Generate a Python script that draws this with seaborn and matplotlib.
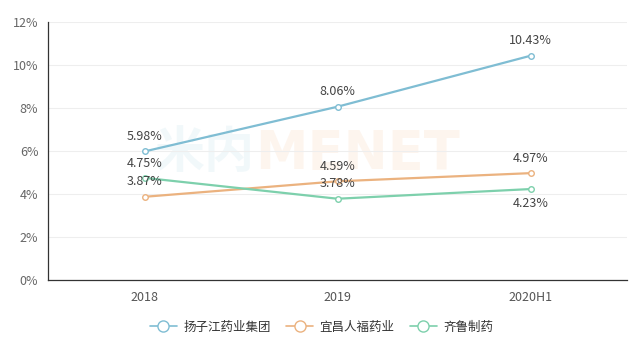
import pandas as pd
import matplotlib.pyplot as plt
import seaborn as sns

sns.set_style("white")
plt.rcParams["font.family"] = ["Noto Sans CJK SC", "DejaVu Sans"]

## DATA
periods = ["2018", "2019", "2020H1"]
yangtze = [5.98, 8.06, 10.43]
humanwell = [3.87, 4.59, 4.97]
qilu = [4.75, 3.78, 4.23]
series_names = ["扬子江药业集团", "宜昌人福药业", "齐鲁制药"]
colors = ["#7fbdd3", "#ebb27f", "#7dd0ac"]
# label above (+) or below (-) each point
label_side = [[1, 1, 1], [1, 1, 1], [1, 1, -1]]

rows = []
for name, vals in zip(series_names, [yangtze, humanwell, qilu]):
    for i, (p, v) in enumerate(zip(periods, vals)):
        rows.append({"period": p, "x": i, "value": v, "company": name})
df = pd.DataFrame(rows)

fig = plt.figure(figsize=(6.43, 3.51), dpi=100)
ax = fig.add_axes([48 / 643, 1 - 280 / 351, 579 / 643, 258 / 351])

# faint watermark
ax.text(0.357, 0.49, "米内", transform=ax.transAxes, fontsize=36, fontweight="bold",
        color="#7fbdd3", alpha=0.10, ha="right", va="center", zorder=0)
ax.text(0.357, 0.49, "MENET", transform=ax.transAxes, fontsize=38, fontweight="bold",
        color="#f0a060", alpha=0.10, ha="left", va="center", zorder=0,
        family="Liberation Sans Narrow")

sns.lineplot(data=df, x="x", y="value", hue="company", palette=colors,
             hue_order=series_names, ax=ax, marker="o", markersize=4,
             markerfacecolor="white", markeredgewidth=1, linewidth=1.6,
             legend=False, zorder=3)
for line, c in zip(ax.lines, colors):
    line.set_markeredgecolor(c)

for si, (name, vals) in enumerate(zip(series_names, [yangtze, humanwell, qilu])):
    for i, v in enumerate(vals):
        side = label_side[si][i]
        ax.annotate(f"{v:.2f}%", (i, v), xytext=(0, 6 * side), textcoords="offset points",
                    ha="center", va="bottom" if side > 0 else "top",
                    fontsize=9, color="#444444")

ax.set_xlim(-0.5, 2.5)
ax.set_ylim(0, 12)
ax.set_yticks(range(0, 13, 2))
ax.set_yticklabels([f"{t}%" for t in range(0, 13, 2)])
ax.set_xticks(range(len(periods)))
ax.set_xticklabels(periods)
ax.set_xticks([-0.5, 0.5, 1.5, 2.5], minor=True)
ax.tick_params(axis="x", which="major", length=0, pad=8, labelsize=9, labelcolor="#555555")
ax.tick_params(axis="x", which="minor", length=4, color="#333333", direction="out")
ax.tick_params(axis="y", length=4, color="#333333", labelsize=9, labelcolor="#666666", pad=3)
ax.set_xlabel("")
ax.set_ylabel("")
ax.grid(axis="y", color="#eeeeee", linewidth=0.8)
ax.set_axisbelow(True)
for s in ["top", "right"]:
    ax.spines[s].set_visible(False)
for s in ["left", "bottom"]:
    ax.spines[s].set_color("#333333")
    ax.spines[s].set_linewidth(0.9)

handles = [plt.Line2D([], [], color=c, marker="o", markersize=8, markerfacecolor="white",
                      markeredgecolor=c, linewidth=1.2) for c in colors]
fig.legend(handles, series_names, loc="center", bbox_to_anchor=(0.5, 1 - 327 / 351),
           ncol=3, frameon=False, fontsize=9, handlelength=2.2, columnspacing=1.2,
           handletextpad=0.5, labelcolor="#333333")

fig.savefig("out.png", dpi=100)
